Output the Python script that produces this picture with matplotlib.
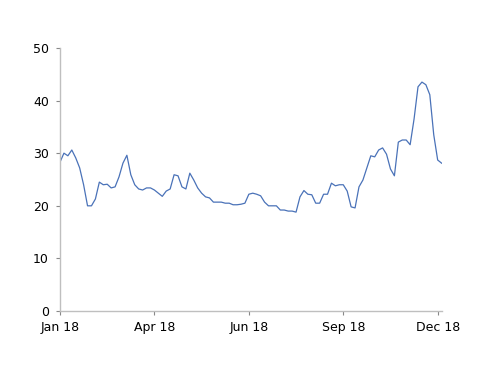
import numpy as np
import matplotlib
matplotlib.use("Agg")
import matplotlib.pyplot as plt

# values, one every ~4 px along the x axis
values = [
    28.3, 30.0, 29.5, 30.6, 29.1, 27.2, 24.0, 20.0, 20.0, 21.3,
    24.5, 24.0, 24.1, 23.4, 23.6, 25.5, 28.1, 29.6, 25.9, 24.0,
    23.2, 23.0, 23.4, 23.4, 23.0, 22.4, 21.8, 22.8, 23.2, 25.9,
    25.7, 23.6, 23.2, 26.2, 24.9, 23.4, 22.4, 21.7, 21.5, 20.7,
    20.7, 20.7, 20.5, 20.5, 20.2, 20.2, 20.3, 20.5, 22.2, 22.4,
    22.2, 21.9, 20.7, 20.0, 20.0, 20.0, 19.2, 19.2, 19.0, 19.0,
    18.8, 21.7, 22.9, 22.2, 22.1, 20.5, 20.5, 22.2, 22.2, 24.3,
    23.8, 24.0, 24.0, 22.8, 19.8, 19.6, 23.6, 24.9, 27.2, 29.5,
    29.3, 30.6, 31.0, 29.8, 27.0, 25.7, 32.1, 32.5, 32.5, 31.6,
    36.5, 42.6, 43.5, 43.0, 41.1, 33.5, 28.7, 28.1,
]
tick_labels = ["Jan 18", "Apr 18", "Jun 18", "Sep 18", "Dec 18"]
tick_step = 24

x = np.arange(len(values))

fig = plt.figure(figsize=(5, 3.86), dpi=100)
ax = fig.add_axes([0.12, 0.194, 0.764, 0.682])
ax.plot(x, values, color="#4a72b8", linewidth=0.9)

ax.set_xlim(0, len(values) - 0.9)
ax.set_ylim(0, 50)
ax.set_yticks(np.arange(0, 51, 10))
ax.set_xticks(np.arange(len(tick_labels)) * tick_step)
ax.set_xticklabels(tick_labels)

for side in ["top", "right"]:
    ax.spines[side].set_visible(False)
for side in ["left", "bottom"]:
    ax.spines[side].set_color("#bfbfbf")
    ax.spines[side].set_linewidth(1.0)
ax.tick_params(axis="both", colors="#888888", length=3, width=0.8,
               labelcolor="black", labelsize=9)
ax.tick_params(axis="x", pad=4)
ax.tick_params(axis="y", pad=5)

plt.savefig("out.png", dpi=100)
